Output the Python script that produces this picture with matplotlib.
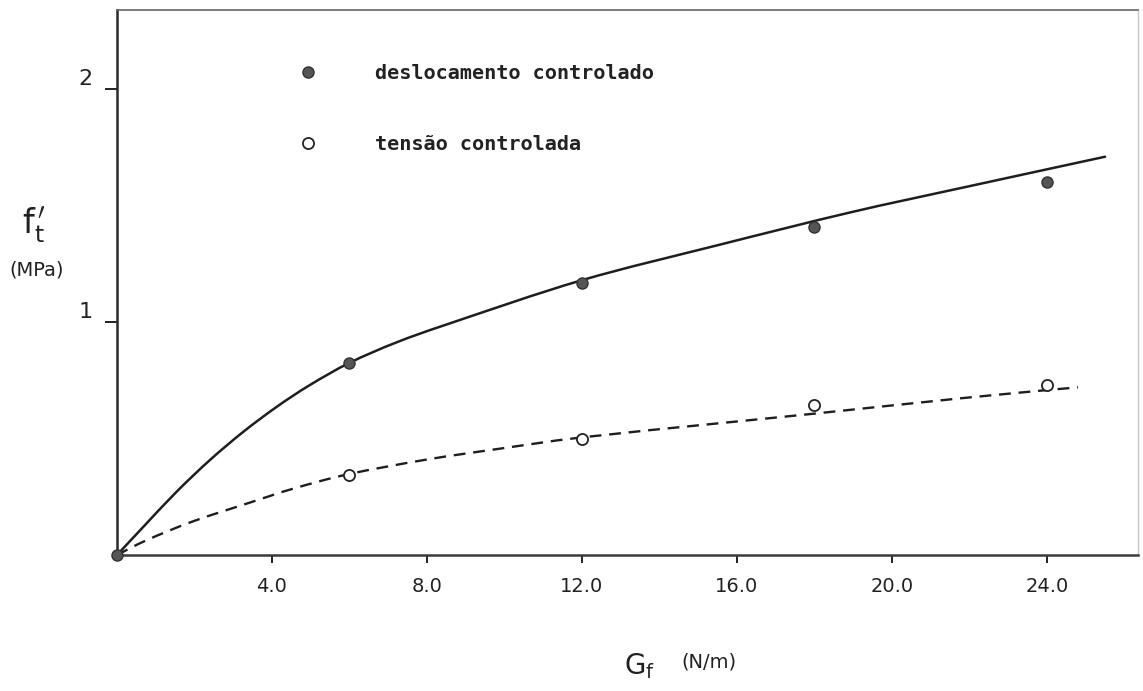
import matplotlib
matplotlib.use("Agg")
import matplotlib.pyplot as plt
from matplotlib.path import Path
from matplotlib.patches import PathPatch

# measured points
g_pts = [0, 6, 12, 18, 24]
ft_desl = [0, 0.825, 1.17, 1.41, 1.60]
g_pts_t = [6, 12, 18, 24]
ft_tens = [0.345, 0.50, 0.645, 0.73]

# fitted curves
curve_desl_x = [0, 0.68, 1.54, 2.40, 3.26, 4.12, 4.98, 6.0, 7.2, 8.6, 12.0, 15.5, 18.9, 21.9, 25.5]
curve_desl_y = [0, 0.121, 0.272, 0.408, 0.529, 0.636, 0.730, 0.825, 0.912, 0.995, 1.18, 1.33, 1.47, 1.58, 1.71]
curve_tens_x = [0, 0.77, 1.97, 3.43, 4.55, 6.0, 8.0, 9.9, 12.0, 15.5, 18.0, 21.9, 24.8]
curve_tens_y = [0, 0.064, 0.145, 0.225, 0.285, 0.348, 0.41, 0.457, 0.505, 0.565, 0.607, 0.675, 0.72]

xticks = [4, 8, 12, 16, 20, 24]
xtick_labels = ["4.0", "8.0", "12.0", "16.0", "20.0", "24.0"]
yticks = [1, 2]
ytick_labels = ["1", "2"]


def smooth_path(xs, ys):
    # catmull-rom through the read points, drawn as bezier segments
    pts = list(zip(xs, ys))
    verts = [pts[0]]
    codes = [Path.MOVETO]
    n = len(pts)
    for i in range(n - 1):
        p0 = pts[i - 1] if i > 0 else pts[i]
        p1 = pts[i]
        p2 = pts[i + 1]
        p3 = pts[i + 2] if i + 2 < n else p2
        c1 = (p1[0] + (p2[0] - p0[0]) / 6, p1[1] + (p2[1] - p0[1]) / 6)
        c2 = (p2[0] - (p3[0] - p1[0]) / 6, p2[1] - (p3[1] - p1[1]) / 6)
        verts += [c1, c2, p2]
        codes += [Path.CURVE4] * 3
    return Path(verts, codes)


W, H = 1143, 691
fig = plt.figure(figsize=(W / 100, H / 100), dpi=100)
ax = fig.add_axes([117 / W, (H - 555) / H, (1138 - 117) / W, (555 - 10) / H])

ax.add_patch(PathPatch(smooth_path(curve_desl_x, curve_desl_y), fill=False,
                       edgecolor="#1e1e1e", lw=1.8, capstyle="round"))
ax.add_patch(PathPatch(smooth_path(curve_tens_x, curve_tens_y), fill=False,
                       edgecolor="#1e1e1e", lw=1.7, ls=(0, (5, 3.3)),
                       capstyle="butt"))

ax.plot(g_pts, ft_desl, "o", ms=8, mfc="#555555", mec="#333333", mew=1.0,
        ls="none", label="deslocamento controlado", clip_on=False, zorder=5)
ax.plot(g_pts_t, ft_tens, "o", ms=8, mfc="white", mec="#222222", mew=1.3,
        ls="none", label="tensão controlada", zorder=5)

ax.set_xlim(0, 26.35)
ax.set_ylim(0, 2.34)

ax.set_xticks(xticks)
ax.set_xticklabels(xtick_labels)
ax.set_yticks(yticks)
ax.set_yticklabels(ytick_labels)
ax.tick_params(axis="x", direction="out", length=6, width=1.4, pad=10,
               labelsize=14, colors="#222222")
ax.tick_params(axis="y", direction="out", length=8.5, width=1.4, pad=9,
               labelsize=16, colors="#222222")
for lbl in ax.get_yticklabels():
    lbl.set_verticalalignment("bottom")

ax.spines["left"].set_linewidth(1.8)
ax.spines["left"].set_color("#2a2a2a")
ax.spines["bottom"].set_linewidth(1.8)
ax.spines["bottom"].set_color("#3a3a3a")
ax.spines["top"].set_linewidth(1.2)
ax.spines["top"].set_color("#666666")
ax.spines["right"].set_linewidth(1.0)
ax.spines["right"].set_color("#c8c8c8")

leg = ax.legend(loc="upper left", bbox_to_anchor=(298 / W, 1 - 64 / H),
                bbox_transform=fig.transFigure, frameon=False,
                handlelength=1.0, handletextpad=2.8, labelspacing=2.6,
                borderpad=0, borderaxespad=0,
                prop={"family": "DejaVu Sans Mono", "weight": "bold", "size": 14.5})
for t in leg.get_texts():
    t.set_color("#222222")

# axis titles
fig.text(34 / W, 1 - 226 / H, r"$\mathrm{f}_{\mathrm{t}}^{\,\prime}$",
         fontsize=24, ha="center", va="center", color="#222222")
fig.text(37 / W, 1 - 270 / H, "(MPa)", fontsize=14, ha="center", va="center",
         color="#222222")
fig.text(640 / W, 1 - 666 / H, r"$\mathrm{G}_{\mathrm{f}}$", fontsize=20,
         ha="center", va="center", color="#222222")
fig.text(709 / W, 1 - 662 / H, "(N/m)", fontsize=14, ha="center", va="center",
         color="#222222")

fig.savefig("out.png", dpi=100)
